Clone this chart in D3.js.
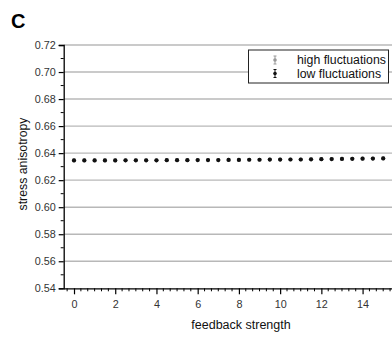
<!DOCTYPE html>
<html>
<head>
<meta charset="utf-8">
<script src="https://cdn.jsdelivr.net/npm/d3@7"></script>
<style>
  body { margin: 0; background: #fff; }
  svg { display: block; font-family: "Liberation Sans", Arial, sans-serif; }
</style>
</head>
<body>
<svg id="chart" width="392" height="340"></svg>
<script>
// feedback strength values (0 .. 15, step 0.5)
const feedback = [0, 0.5, 1, 1.5, 2, 2.5, 3, 3.5, 4, 4.5, 5, 5.5, 6, 6.5, 7, 7.5,
                  8, 8.5, 9, 9.5, 10, 10.5, 11, 11.5, 12, 12.5, 13, 13.5, 14, 14.5, 15];
const lowFluct = [0.6346, 0.6346, 0.6346, 0.6346, 0.6346, 0.6347, 0.6347, 0.6347, 0.6347, 0.6348,
                  0.6348, 0.6348, 0.6349, 0.6349, 0.6349, 0.6350, 0.6350, 0.6351, 0.6351, 0.6352,
                  0.6352, 0.6353, 0.6353, 0.6354, 0.6355, 0.6356, 0.6357, 0.6358, 0.6359, 0.6360, 0.6361];
const highFluct = lowFluct.slice();
const yTicks = [0.54, 0.56, 0.58, 0.60, 0.62, 0.64, 0.66, 0.68, 0.70, 0.72];
const xTicks = [0, 2, 4, 6, 8, 10, 12, 14];
const legendLabels = ["high fluctuations", "low fluctuations"];

const svg = d3.select("#chart");
const x = d3.scaleLinear().domain([-0.5, 15.5]).range([63.7, 393.5]);
const y = d3.scaleLinear().domain([0.54, 0.72]).range([288.3, 45]);

// horizontal grid
svg.append("g").selectAll("line").data(yTicks.slice(1)).join("line")
    .attr("x1", x(-0.5)).attr("x2", 392)
    .attr("y1", d => y(d)).attr("y2", d => y(d))
    .attr("stroke", "#b8b8b8").attr("stroke-width", 1.4);

// y axis
const yAxis = svg.append("g").attr("transform", `translate(${x(-0.5)},0)`)
    .call(d3.axisLeft(y).tickValues(yTicks).tickFormat(d3.format(".2f")).tickSize(5).tickPadding(3));
yAxis.select(".domain").attr("stroke", "#000").attr("stroke-width", 1.3);
yAxis.selectAll(".tick line").attr("stroke", "#000").attr("stroke-width", 1.2);
yAxis.selectAll(".tick text").attr("font-size", 10.8).attr("fill", "#333");
// minor y ticks
const yMinor = d3.range(0.55, 0.72, 0.02);
svg.append("g").selectAll("line").data(yMinor).join("line")
    .attr("x1", x(-0.5) - 3).attr("x2", x(-0.5))
    .attr("y1", d => y(d)).attr("y2", d => y(d))
    .attr("stroke", "#000").attr("stroke-width", 1);

// x axis
const xAxis = svg.append("g").attr("transform", `translate(0,${y(0.54)})`)
    .call(d3.axisBottom(x).tickValues(xTicks).tickSize(6).tickPadding(6).tickSizeOuter(0));
xAxis.select(".domain").attr("stroke", "#000").attr("stroke-width", 1.3);
xAxis.selectAll(".tick line").attr("stroke", "#000").attr("stroke-width", 1.2);
xAxis.selectAll(".tick text").attr("font-size", 10.8).attr("fill", "#333");
// minor x ticks
const xMinor = d3.range(-1 / 3, 15.5, 1 / 3).filter(d => Math.abs(d / 2 - Math.round(d / 2)) > 0.01);
svg.append("g").selectAll("line").data(xMinor).join("line")
    .attr("x1", d => x(d)).attr("x2", d => x(d))
    .attr("y1", y(0.54)).attr("y2", y(0.54) + 3)
    .attr("stroke", "#000").attr("stroke-width", 1);

// data points
svg.append("g").selectAll("circle").data(feedback).join("circle")
    .attr("cx", d => x(d)).attr("cy", (d, i) => y(highFluct[i]))
    .attr("r", 2.1).attr("fill", "#999");
svg.append("g").selectAll("circle").data(feedback).join("circle")
    .attr("cx", d => x(d)).attr("cy", (d, i) => y(lowFluct[i]))
    .attr("r", 2.1).attr("fill", "#111");

// axis labels
svg.append("text").attr("x", 241).attr("y", 329).attr("text-anchor", "middle")
    .attr("font-size", 12.5).attr("fill", "#111").text("feedback strength");
svg.append("text").attr("transform", "translate(27,164) rotate(-90)")
    .attr("text-anchor", "middle").attr("font-size", 12.3).attr("fill", "#111").text("stress anisotropy");

// panel letter
svg.append("text").attr("x", 11).attr("y", 28).attr("font-size", 20).attr("font-weight", "bold")
    .text("C");

// legend
const lg = svg.append("g");
lg.append("rect").attr("x", 248.5).attr("y", 50).attr("width", 140).attr("height", 33)
    .attr("fill", "#fff").attr("stroke", "#222").attr("stroke-width", 1);
const legendColors = ["#999", "#111"];
legendLabels.forEach((lab, i) => {
    const cy = 60 + i * 13.5;
    lg.append("line").attr("x1", 275).attr("x2", 275).attr("y1", cy - 4).attr("y2", cy + 4)
        .attr("stroke", legendColors[i]).attr("stroke-width", 1);
    [-4, 4].forEach(o => lg.append("line").attr("x1", 273.5).attr("x2", 276.5)
        .attr("y1", cy + o).attr("y2", cy + o).attr("stroke", legendColors[i]).attr("stroke-width", 1));
    lg.append("circle").attr("cx", 275).attr("cy", cy).attr("r", 1.8).attr("fill", legendColors[i]);
    lg.append("text").attr("x", 297).attr("y", cy + 4).attr("font-size", 12.3).attr("fill", "#111").text(lab);
});
</script>
</body>
</html>
